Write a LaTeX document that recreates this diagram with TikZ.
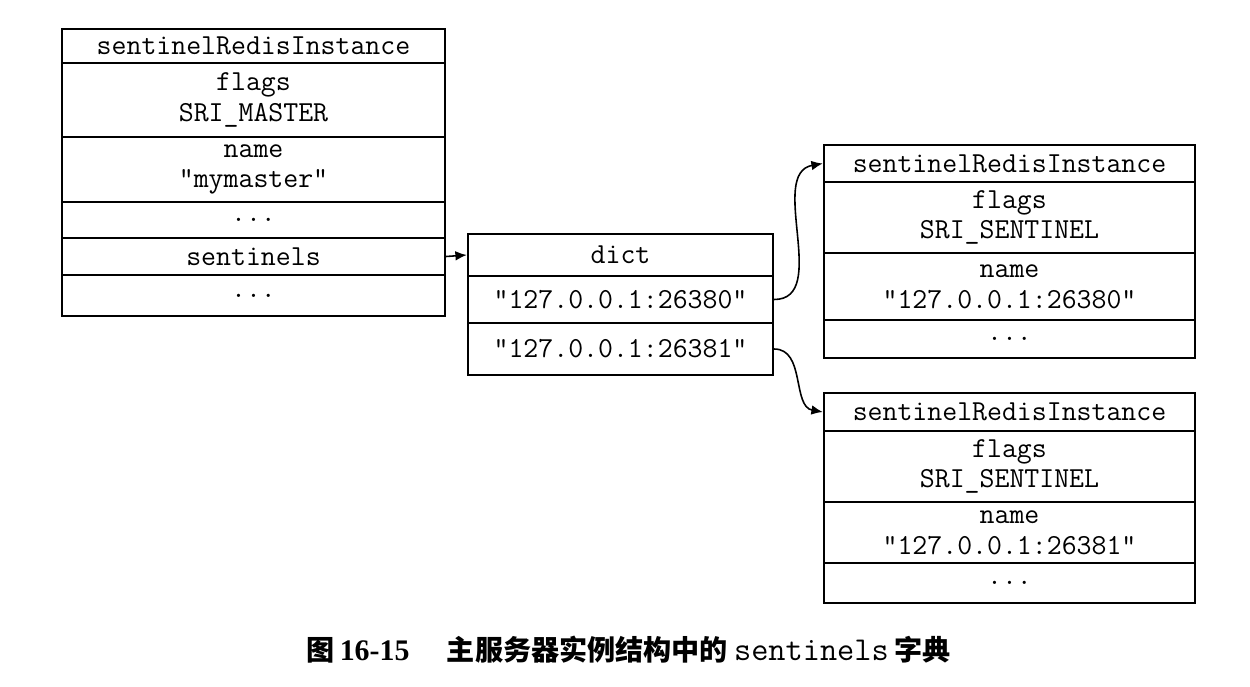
\documentclass[tikz,border=0pt]{standalone}
\usepackage{fontspec}
\setmainfont{Liberation Serif}
\newfontfamily\cjk{Noto Sans CJK SC}
\usetikzlibrary{positioning,arrows.meta}

\tikzset{
  cell/.style={draw, line width=1.4pt, inner sep=0pt, align=center,
    font=\ttfamily\fontsize{16.5}{17.5}\selectfont},
  mcell/.style={cell, minimum width=7.66cm},
  dcell/.style={cell, minimum width=6.1cm},
  scell/.style={cell, minimum width=7.42cm},
  link/.style={-{Latex[length=6.5pt,width=5.5pt]}, line width=0.9pt}
}

\begin{document}
\begin{tikzpicture}[x=0.02cm,y=-0.02cm]
			\useasboundingbox (0,0) rectangle (1250,686);
			% master instance
			\node [mcell, minimum height=0.68cm] (m1) at (253.5,46) {sentinelRedisInstance};
			\node [mcell, minimum height=1.48cm] (m2) at (253.5,100) {flags\\SRI\_MASTER};
			\node [mcell, minimum height=1.3cm] (m3) at (253.5,169.5) {name\\"mymaster"};
			\node [mcell, minimum height=0.72cm] (m4) at (253.5,220) {...};
			\node [mcell, minimum height=0.74cm] (m5) at (253.5,256.5) {sentinels};
			\node [mcell, minimum height=0.82cm] (m6) at (253.5,295.5) {...};
			% dict
			\node [dcell, minimum height=0.84cm] (d1) at (620.5,255) {dict};
			\node [dcell, minimum height=0.94cm] (d2) at (620.5,299.5) {"127.0.0.1:26380"};
			\node [dcell, minimum height=1.04cm] (d3) at (620.5,349) {"127.0.0.1:26381"};
			% sentinel 26380
			\node [scell, minimum height=0.74cm] (a1) at (1009.5,163.5) {sentinelRedisInstance};
			\node [scell, minimum height=1.42cm] (a2) at (1009.5,217.5) {flags\\SRI\_SENTINEL};
			\node [scell, minimum height=1.34cm] (a3) at (1009.5,286.5) {name\\"127.0.0.1:26380"};
			\node [scell, minimum height=0.76cm] (a4) at (1009.5,339) {...};
			% sentinel 26381
			\node [scell, minimum height=0.76cm] (b1) at (1009.5,412) {sentinelRedisInstance};
			\node [scell, minimum height=1.42cm] (b2) at (1009.5,466.5) {flags\\SRI\_SENTINEL};
			\node [scell, minimum height=1.22cm] (b3) at (1009.5,532.5) {name\\"127.0.0.1:26381"};
			\node [scell, minimum height=0.8cm] (b4) at (1009.5,583) {...};
			% pointers
			\draw [link] (m5.east) -- (d1.west);
			\draw [link] (d2.east) to[out=0,in=190] (a1.west);
			\draw [link] (d3.east) to[out=0,in=170] (b1.west);
			% caption
			\node (cap) at (629,650) {\cjk\bfseries\fontsize{16}{18}\selectfont 图\,{\rmfamily\fontsize{17}{18}\selectfont 16-15}\hspace{0.75cm}主服务器实例结构中的\hspace{0.12cm}{\ttfamily\mdseries\fontsize{19}{18}\selectfont sentinels}\hspace{0.12cm}字典};
\end{tikzpicture}
\end{document}
